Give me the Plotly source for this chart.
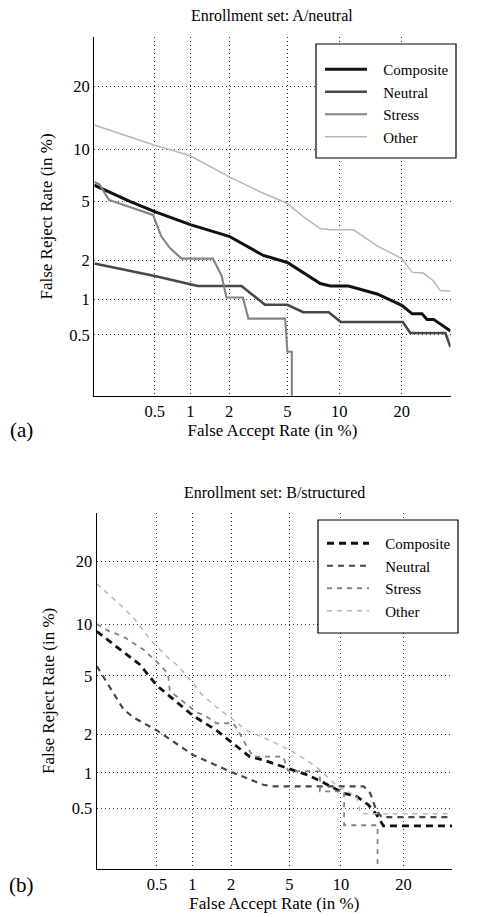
import plotly.graph_objects as go
from statistics import NormalDist

W, H = 481, 917
_nd = NormalDist()


def probit(vals):
    # normal-deviate (DET) scale for percentages; 0 % is clipped below the axis range
    return [_nd.inv_cdf(min(max(v, 1e-4), 99.99) / 100.0) for v in vals]


# ---------------- data (percent) ----------------
tick_pct = [0.5, 1, 2, 5, 10, 20]
tick_text = ["0.5", "1", "2", "5", "10", "20"]
series_names = ["Composite", "Neutral", "Stress", "Other"]

# Panel (a): Enrollment set A/neutral
a_composite_far = [0.135, 0.297, 0.5, 1.0, 2.0, 3.49, 5.0, 7.87, 8.96, 11.2, 15.5, 20.0, 22.1, 24.2, 25.3, 26.8, 30.85]
a_composite_frr = [6.28, 5.0, 4.31, 3.54, 2.95, 2.16, 1.92, 1.33, 1.27, 1.27, 1.10, 0.89, 0.757, 0.757, 0.68, 0.68, 0.54]

a_neutral_far = [0.135, 0.5, 1.0, 1.15, 2.46, 3.58, 5.0, 6.26, 8.78, 10.2, 20.2, 21.7, 29.6, 30.85]
a_neutral_frr = [1.885, 1.52, 1.31, 1.27, 1.27, 0.90, 0.90, 0.78, 0.78, 0.646, 0.646, 0.52, 0.52, 0.39]

a_stress_far = [0.135, 0.152, 0.188, 0.319, 0.483, 0.57, 0.675, 0.847, 1.51, 1.76, 1.91, 2.52, 2.75, 4.84, 5.0, 5.33, 5.33]
a_stress_frr = [6.56, 6.36, 5.11, 4.52, 4.1, 2.95, 2.45, 2.05, 2.05, 1.52, 1.03, 1.03, 0.69, 0.69, 0.354, 0.354, 0.0]

a_other_far = [0.135, 0.5, 0.99, 2.02, 3.31, 4.96, 6.26, 7.87, 8.96, 11.9, 15.5, 20.0, 22.1, 24.5, 26.8, 28.4, 30.85]
a_other_frr = [13.3, 10.5, 9.27, 7.0, 5.74, 4.87, 4.0, 3.33, 3.27, 3.27, 2.53, 2.05, 1.62, 1.60, 1.39, 1.17, 1.16]

# Panel (b): Enrollment set B/structured
b_composite_far = [0.135, 0.245, 0.349, 0.5, 0.784, 1.01, 1.55, 2.19, 2.72, 3.37, 5.0, 6.38, 8.0, 10.3, 12.1, 13.8, 15.1, 16.3, 30.85]
b_composite_frr = [9.13, 7.05, 5.88, 4.33, 3.27, 2.72, 2.13, 1.61, 1.35, 1.27, 1.09, 0.97, 0.835, 0.68, 0.637, 0.54, 0.445, 0.349, 0.349]

b_neutral_far = [0.135, 0.245, 0.303, 0.5, 1.01, 1.96, 3.37, 3.94, 13.1, 14.1, 15.1, 16.0, 30.85]
b_neutral_frr = [5.75, 3.03, 2.65, 2.13, 1.39, 1.03, 0.80, 0.776, 0.776, 0.68, 0.48, 0.42, 0.42]

b_stress_far = [0.135, 0.18, 0.245, 0.377, 0.546, 0.625, 0.646, 0.894, 1.08, 1.26, 1.55, 2.07, 2.25, 2.45, 2.87, 4.57, 4.92, 7.65, 7.65, 10.4, 10.4, 15.3, 15.3]
b_stress_frr = [10.0, 9.13, 8.58, 7.22, 5.75, 5.11, 4.01, 3.27, 2.87, 2.72, 2.4, 2.4, 2.13, 1.80, 1.35, 1.35, 1.04, 1.03, 0.705, 0.705, 0.354, 0.354, 0.0]

b_other_far = [0.135, 0.245, 0.314, 0.447, 0.605, 0.736, 0.98, 1.18, 1.55, 1.96, 2.58, 3.74, 5.0, 6.38, 7.65, 9.5, 12.1, 12.6, 30.85]
b_other_frr = [15.9, 12.2, 10.6, 8.05, 6.6, 5.88, 4.65, 3.82, 3.11, 2.65, 2.13, 1.80, 1.52, 1.27, 1.06, 0.785, 0.637, 0.45, 0.45]

# ---------------- styles ----------------
colors = ["#111111", "#474747", "#838383", "#b8b8b8"]
widths_a = [3.0, 2.6, 2.1, 1.5]
widths_b = [2.8, 2.2, 1.8, 1.5]
dashes_b = ["7px,5px", "6px,5px", "5px,5px", "5px,5px"]
FONT = "Liberation Serif, Times New Roman, Times, serif"
PAD = "\u00a0\u00a0\u00a0"  # gap between legend sample and label

fig = go.Figure()

panel_a = [(a_composite_far, a_composite_frr), (a_neutral_far, a_neutral_frr),
           (a_stress_far, a_stress_frr), (a_other_far, a_other_frr)]
panel_b = [(b_composite_far, b_composite_frr), (b_neutral_far, b_neutral_frr),
           (b_stress_far, b_stress_frr), (b_other_far, b_other_frr)]

for i, (far, frr) in enumerate(panel_a):
    fig.add_trace(go.Scatter(x=probit(far), y=probit(frr), mode="lines", name=PAD + series_names[i],
                             line=dict(color=colors[i], width=widths_a[i]),
                             xaxis="x", yaxis="y", legend="legend"))
for i, (far, frr) in enumerate(panel_b):
    fig.add_trace(go.Scatter(x=probit(far), y=probit(frr), mode="lines", name=PAD + series_names[i],
                             line=dict(color=colors[i], width=widths_b[i], dash=dashes_b[i]),
                             xaxis="x2", yaxis="y2", legend="legend2"))

tv = probit(tick_pct)
axis_common = dict(
    range=[-3.0, -0.5], tickvals=tv, ticktext=tick_text, showgrid=True,
    gridcolor="#333333", gridwidth=1, griddash="1px,3px", zeroline=False,
    showline=True, linecolor="black", linewidth=1.3, ticks="",
    tickfont=dict(family=FONT, size=16.5, color="black"),
)
title_font = dict(family=FONT, size=17, color="black")
legend_font = dict(family=FONT, size=15, color="black")

fig.update_layout(
    width=W, height=H, margin=dict(l=0, r=0, t=0, b=0),
    paper_bgcolor="white", plot_bgcolor="white",
    font=dict(family=FONT, color="black"),
    xaxis=dict(domain=[94.3 / W, 450.5 / W], anchor="y",
               title=dict(text="False Accept Rate (in %)", font=title_font, standoff=2), **axis_common),
    yaxis=dict(domain=[1 - 395.7 / H, 1 - 37.3 / H], anchor="x",
               title=dict(text="False Reject Rate (in %)", font=title_font, standoff=12), **axis_common),
    xaxis2=dict(domain=[96.7 / W, 452.0 / W], anchor="y2",
                title=dict(text="False Accept Rate (in %)", font=title_font, standoff=2), **axis_common),
    yaxis2=dict(domain=[1 - 869.0 / H, 1 - 512.7 / H], anchor="x2",
                title=dict(text="False Reject Rate (in %)", font=title_font, standoff=12), **axis_common),
    legend=dict(x=320 / W, y=1 - 53 / H, xanchor="left", yanchor="top",
                bgcolor="rgba(0,0,0,0)", borderwidth=0, itemwidth=42,
                font=legend_font, tracegroupgap=0),
    legend2=dict(x=322 / W, y=1 - 527 / H, xanchor="left", yanchor="top",
                 bgcolor="rgba(0,0,0,0)", borderwidth=0, itemwidth=42,
                 font=legend_font, tracegroupgap=0),
    showlegend=True,
)

# legend frames
fig.add_shape(type="rect", xref="paper", yref="paper", layer="above",
              x0=316 / W, x1=456 / W, y0=1 - 158 / H, y1=1 - 44 / H,
              line=dict(color="black", width=1.2), fillcolor="white")
fig.add_shape(type="rect", xref="paper", yref="paper", layer="above",
              x0=318 / W, x1=458 / W, y0=1 - 633 / H, y1=1 - 520 / H,
              line=dict(color="black", width=1.2), fillcolor="white")

# titles and panel labels
fig.add_annotation(text="Enrollment set: A/neutral", x=272 / W, y=1 - 15 / H, xref="paper", yref="paper",
                   showarrow=False, font=dict(family=FONT, size=16), xanchor="center", yanchor="middle")
fig.add_annotation(text="Enrollment set: B/structured", x=274 / W, y=1 - 493 / H, xref="paper", yref="paper",
                   showarrow=False, font=dict(family=FONT, size=16), xanchor="center", yanchor="middle")
fig.add_annotation(text="(a)", x=21 / W, y=1 - 430 / H, xref="paper", yref="paper",
                   showarrow=False, font=dict(family=FONT, size=21), xanchor="center", yanchor="middle")
fig.add_annotation(text="(b)", x=21 / W, y=1 - 885 / H, xref="paper", yref="paper",
                   showarrow=False, font=dict(family=FONT, size=21), xanchor="center", yanchor="middle")

fig.write_html("out.html")
